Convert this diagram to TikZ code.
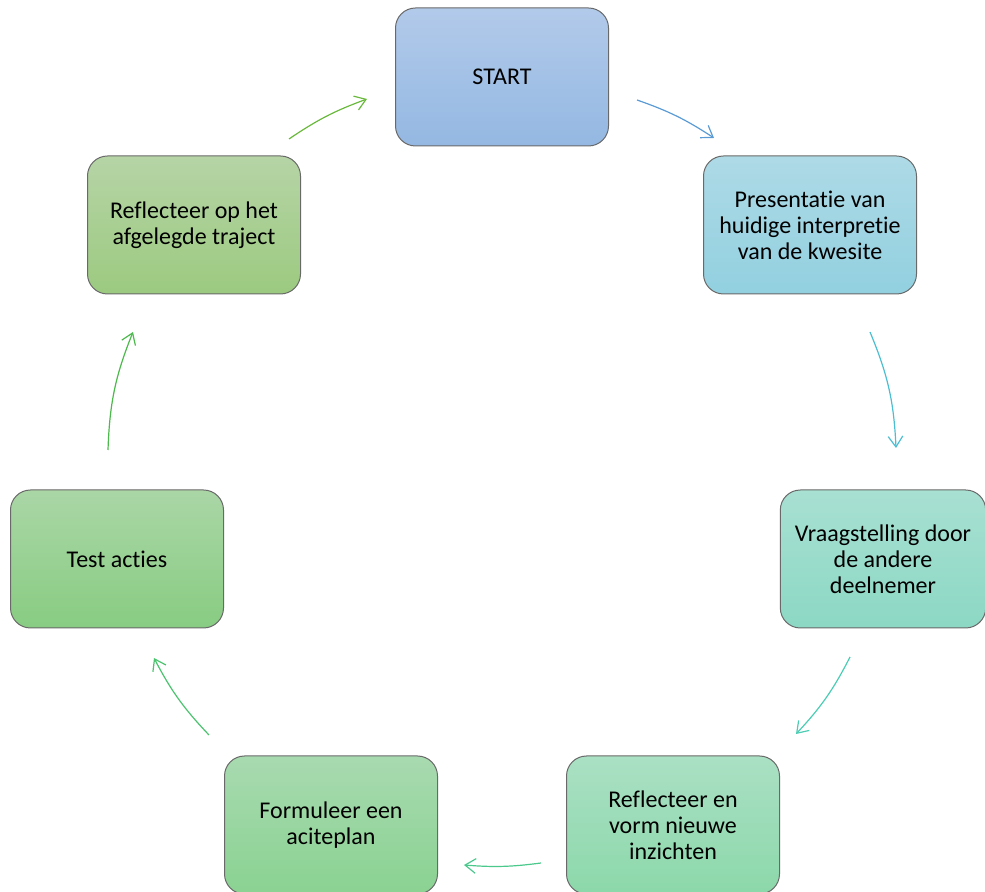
\documentclass[tikz,border=0pt]{standalone}
\usepackage{fontspec}
\setmainfont{Carlito}[Ligatures={NoCommon}]
\usepackage{tikz}
\usetikzlibrary{arrows.meta, positioning}

% kleuren van de stappen (boven / onder)
\definecolor{startTop}{RGB}{178,202,234}
\definecolor{startBot}{RGB}{148,184,226}
\definecolor{presTop}{RGB}{174,218,230}
\definecolor{presBot}{RGB}{146,208,224}
\definecolor{vraagTop}{RGB}{168,224,210}
\definecolor{vraagBot}{RGB}{140,216,196}
\definecolor{inzichtTop}{RGB}{170,224,196}
\definecolor{inzichtBot}{RGB}{140,216,170}
\definecolor{planTop}{RGB}{168,218,176}
\definecolor{planBot}{RGB}{138,210,146}
\definecolor{testTop}{RGB}{170,214,166}
\definecolor{testBot}{RGB}{136,204,130}
\definecolor{trajectTop}{RGB}{182,212,166}
\definecolor{trajectBot}{RGB}{156,202,128}
\definecolor{randGrijs}{RGB}{105,105,105}
% kleuren van de pijlen
\definecolor{pijlA}{RGB}{91,155,213}
\definecolor{pijlB}{RGB}{75,190,210}
\definecolor{pijlC}{RGB}{75,205,180}
\definecolor{pijlD}{RGB}{75,200,140}
\definecolor{pijlE}{RGB}{75,195,110}
\definecolor{pijlF}{RGB}{75,185,75}
\definecolor{pijlG}{RGB}{105,185,60}

\begin{document}
\begin{tikzpicture}[x=0.75pt, y=0.75pt,
    stap/.style={draw=randGrijs, line width=0.75pt, rounded corners=15pt,
        minimum width=159.75pt, minimum height=103.5pt, inner sep=0pt,
        align=center, font=\fontsize{18}{19.5}\selectfont},
    pijl/.style={line width=0.9pt, -{Straight Barb[length=8pt,width=11pt]}}]

    % =================================================================
    % 1. KADER VAN DE TEKENING
    % =================================================================
    \useasboundingbox (0,0) rectangle (985,892);
    \clip (0,0) rectangle (985,892);

    % =================================================================
    % 2. DE ZEVEN STAPPEN VAN DE CYCLUS
    % =================================================================
    \node[stap, top color=startTop, bottom color=startBot] (start) at (502,815) {START};
    \node[stap, top color=presTop, bottom color=presBot] (presentatie) at (810,667)
        {Presentatie van\\huidige interpretie\\van de kwesite};
    \node[stap, top color=vraagTop, bottom color=vraagBot, minimum width=154pt] (vraag) at (883,333)
        {Vraagstelling door\\de andere\\deelnemer};
    \node[stap, top color=inzichtTop, bottom color=inzichtBot] (inzicht) at (673,67)
        {Reflecteer en\\vorm nieuwe\\inzichten};
    \node[stap, top color=planTop, bottom color=planBot] (plan) at (331,67)
        {Formuleer een\\aciteplan};
    \node[stap, top color=testTop, bottom color=testBot] (test) at (117,333) {Test acties};
    \node[stap, top color=trajectTop, bottom color=trajectBot] (traject) at (194,667)
        {Reflecteer op het\\afgelegde traject};

    % =================================================================
    % 3. BEGIN- EN EINDPUNTEN VAN DE PIJLEN
    % =================================================================
    \coordinate (A1) at (637,792);  \coordinate (A2) at (714,754);
    \coordinate (B1) at (870,560);  \coordinate (B2) at (896,444);
    \coordinate (C1) at (850,235);  \coordinate (C2) at (796,158);
    \coordinate (D1) at (541,29);   \coordinate (D2) at (464,27);
    \coordinate (E1) at (209,157);  \coordinate (E2) at (154,234);
    \coordinate (F1) at (108,442);  \coordinate (F2) at (133,560);
    \coordinate (G1) at (289,753);  \coordinate (G2) at (367,793);

    % =================================================================
    % 4. GEBOGEN PIJLEN TUSSEN DE STAPPEN
    % =================================================================
    \draw[pijl, pijlA] (A1) to[bend left=7] (A2);
    \draw[pijl, pijlB] (B1) to[bend left=10] (B2);
    \draw[pijl, pijlC] (C1) to[bend left=8] (C2);
    \draw[pijl, pijlD] (D1) to[bend left=6] (D2);
    \draw[pijl, pijlE] (E1) to[bend left=8] (E2);
    \draw[pijl, pijlF] (F1) to[bend left=10] (F2);
    \draw[pijl, pijlG] (G1) to[bend left=7] (G2);

\end{tikzpicture}
\end{document}
